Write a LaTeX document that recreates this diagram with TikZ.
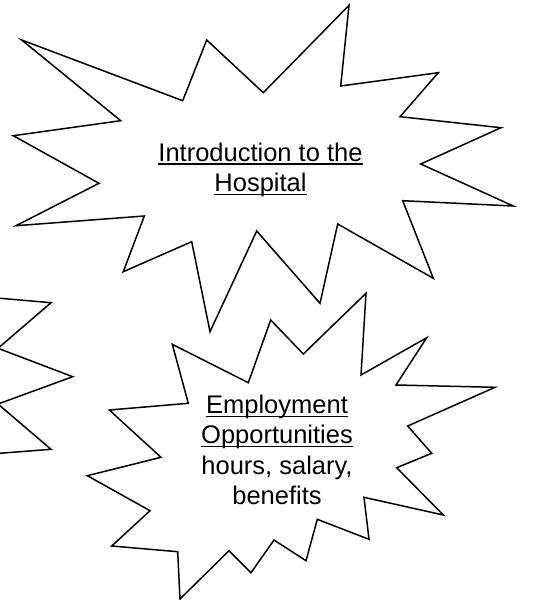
\documentclass[tikz,border=0pt]{standalone}
\usepackage{fontspec}
\setmainfont{Liberation Sans}
\newcommand{\uln}[1]{\setbox0\hbox{#1}\rlap{\vrule width\wd0 height -2.2pt depth 3.5pt}\box0}
\tikzset{
  burst/.style={draw=black, line width=1.5pt, line join=miter, fill=white},
  label/.style={align=center, inner sep=0pt, font=\fontsize{25.5}{30.5}\selectfont}
}
\begin{document}
\begin{tikzpicture}[x=1pt,y=-1pt]
      \useasboundingbox (0,0) rectangle (542,600);
      % star on the left edge
      \draw[burst] (-3,298) -- (51,302.7) -- (-2,348.3) -- (72.7,376.7) -- (-2,404)
        -- (51,449.3) -- (-3,453.5);
      % top star
      \draw[burst] (21.7,40) -- (120.7,120.7) -- (13.3,135.7) -- (99,183.3) -- (16,225.7)
        -- (144.3,216) -- (123.3,271.7) -- (191.7,241.7) -- (210,331.7) -- (256.7,231)
        -- (320,303.3) -- (337.7,224) -- (433.3,278.3) -- (402.7,200.7) -- (513.3,206)
        -- (420.7,164) -- (501,127.7) -- (400,116.7) -- (438.3,72.7) -- (340.7,86)
        -- (349,5.3) -- (263.3,92.7) -- (206.7,40) -- (182.7,100.7) -- cycle;
      % bottom star
      \draw[burst] (366,293.3) -- (361,375) -- (426.7,337.7) -- (396,385) -- (495,387.3)
        -- (407.7,426) -- (431.7,453.3) -- (396.7,467.7) -- (443.3,515) -- (364,497.3)
        -- (369,539.3) -- (317.3,519.3) -- (306,560.7) -- (274,540) -- (251,572.7)
        -- (229,550.7) -- (180,599) -- (177.7,551.7) -- (111.7,546) -- (150,510.7)
        -- (87.3,475.7) -- (161,457.3) -- (109.3,410) -- (188.3,403.3) -- (172.3,344.3)
        -- (248.3,382.7) -- (270.7,320) -- (303.3,354) -- cycle;
      % base is the last line
      \node[label, anchor=base](Intro) at (260.5,191.5) {\uln{Introduction to the}\\\uln{Hospital}};
      \node[label, anchor=base](Employ) at (277,504.8) {\uln{Employment}\\\uln{Opportunities}\\hours, salary,\\benefits};
\end{tikzpicture}
\end{document}
